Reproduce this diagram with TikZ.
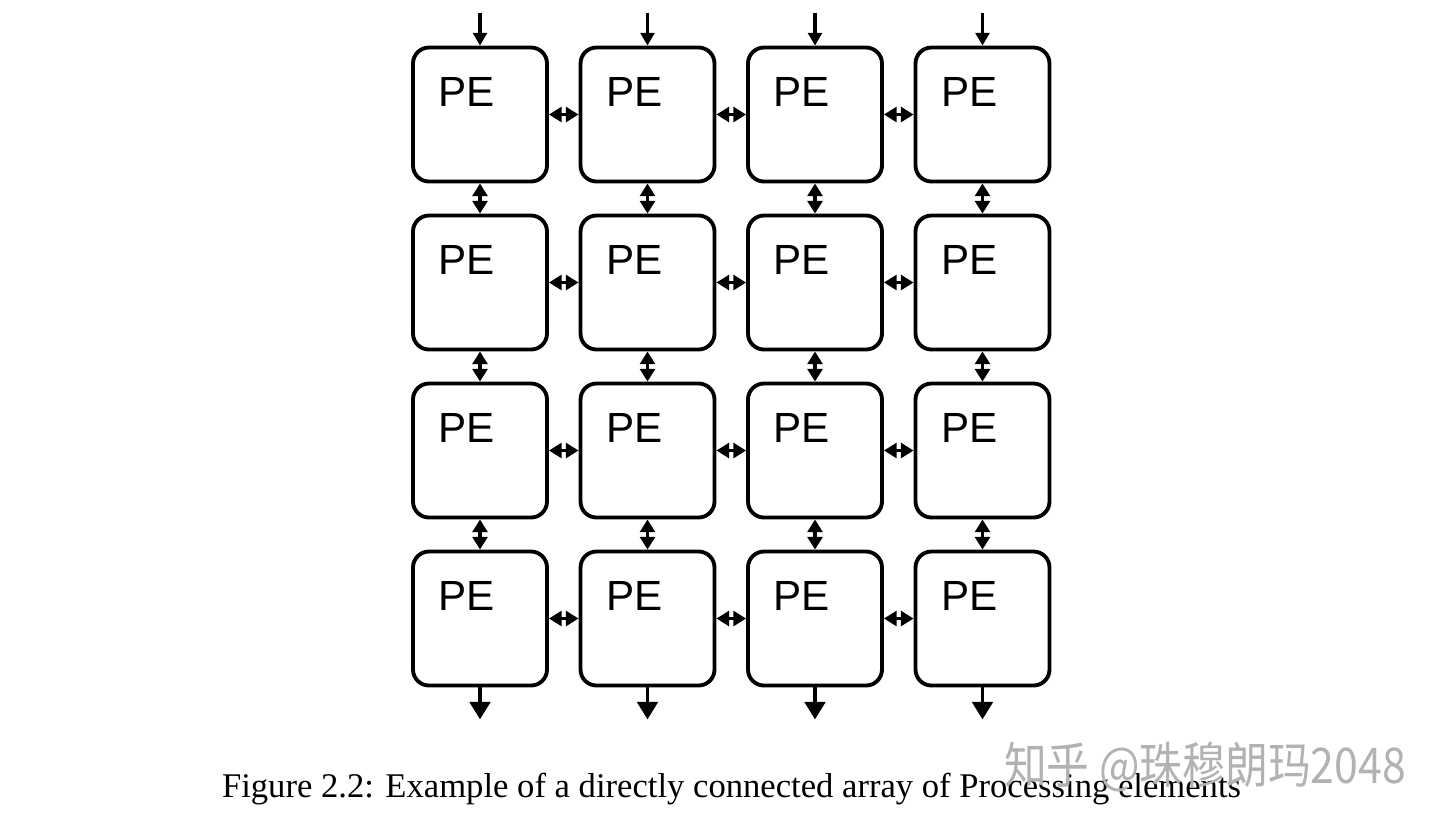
\documentclass[tikz,border=0pt]{standalone}
\usepackage{fontspec}
\setmainfont{Liberation Serif}
\setsansfont{Liberation Sans}
\newfontfamily\cjk{Noto Sans CJK SC}
\usetikzlibrary{arrows.meta,positioning}

\tikzset{
  pe/.style={draw,line width=1.1pt,rounded corners=0.16cm,minimum size=1.34cm,inner sep=0pt},
  pelab/.style={anchor=north west,inner sep=0pt,xshift=0.27cm,yshift=-0.31cm,
    font=\sffamily\fontsize{12}{14}\selectfont},
  link/.style={line width=1.1pt,{Triangle[length=3.6pt,width=4.2pt]}-{Triangle[length=3.6pt,width=4.2pt]}},
  inarr/.style={line width=1.1pt,-{Triangle[length=3.6pt,width=3.9pt]}},
  outarr/.style={line width=1.1pt,-{Triangle[length=5pt,width=5.8pt]}}
}

\begin{document}
\begin{tikzpicture}
  \useasboundingbox (0,0) rectangle (14.4,-8.27);
  % grid of processing elements
  \foreach \r in {1,...,4}{
    \foreach \c in {1,...,4}{
      \node[pe] (pe\r\c) at ({4.80+1.675*(\c-1)},{-1.145-1.68*(\r-1)}) {};
      \node[pelab] (lab\r\c) at (pe\r\c.north west) {PE};
    }
  }
  % neighbour links
  \foreach \r in {1,...,4}{
    \foreach \c [evaluate=\c as \d using int(\c+1)] in {1,2,3}{
      \draw[link] (pe\r\c.east) -- (pe\r\d.west);
      \draw[link] (pe\c\r.south) -- (pe\d\r.north);
    }
  }
  % inputs on top, outputs at the bottom
  \foreach \c in {1,...,4}{
    \coordinate[above=0.33cm of pe1\c.north] (in\c);
    \coordinate[below=0.32cm of pe4\c.south] (out\c);
    \draw[inarr] (in\c) -- (pe1\c.north);
    \draw[outarr] (pe4\c.south) -- (out\c);
  }
  \node[anchor=base,font=\fontsize{9.85}{12}\selectfont] (cap) at (7.315,-7.97)
    {Figure 2.2: Example of a directly connected array of Processing elements};
  \node[anchor=base,text=black!30,font=\cjk\fontsize{14}{16}\selectfont] (wm) at (12.05,-7.83)
    {\scalebox{0.87}[1]{知乎 @珠穆朗玛2048}};
\end{tikzpicture}
\end{document}
